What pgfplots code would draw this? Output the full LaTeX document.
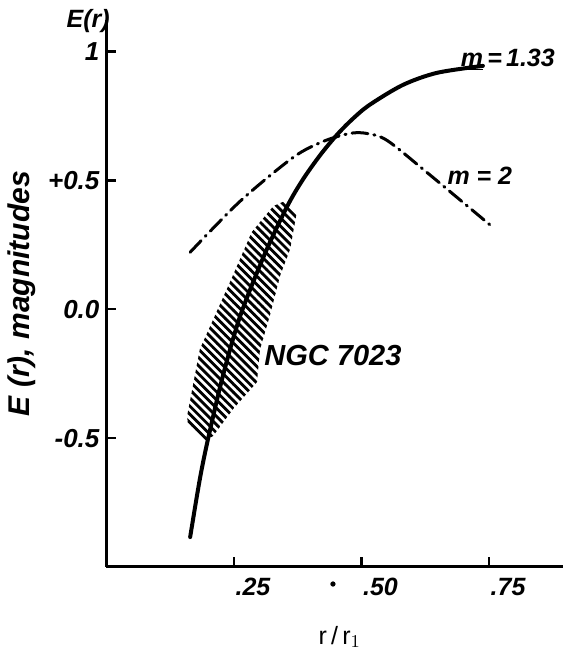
\documentclass[border=0pt]{standalone}
\usepackage{fontspec}
\setmainfont{Liberation Sans}
\usepackage{pgfplots}
\pgfplotsset{compat=1.18}
\usetikzlibrary{patterns.meta}

% diagonal hatching, "\" direction, heavy strokes
\tikzdeclarepattern{
  name=hatch,
  type=uncolored,
  bottom left={(-.1pt,-1pt)},
  top right={(3pt,1pt)},
  tile size={(2.9pt,2.9pt)},
  tile transformation={rotate=-45},
  code={
    \pgfsetlinewidth{1.4pt}
    \pgfpathmoveto{\pgfqpoint{-.1pt}{0pt}}
    \pgfpathlineto{\pgfqpoint{3pt}{0pt}}
    \pgfusepath{stroke}
  }
}

\newcommand\lf[1]{\fontsize{#1}{#1}\selectfont\bfseries\itshape}

\begin{document}
\begin{tikzpicture}
\begin{axis}[
    scale only axis,
    width=228.25pt, height=273.5pt,
    xmin=0, xmax=0.895,
    ymin=-1, ymax=1.122,
    axis lines=left,
    axis line style={line width=1.5pt, -},
    tick align=inside,
    major tick length=5pt,
    tick style={line width=1.2pt, black},
    xtick={0.25,0.5,0.75},
    xticklabels={.25,.50,.75},
    ytick={-0.5,0,0.5,1},
    yticklabels={-0.5,0.0,+0.5,1},
    xticklabel style={font=\lf{12.5}, xshift=9.5pt, yshift=-2pt},
    yticklabel style={font=\lf{13}},
    xlabel={r\,/\,r$_{1}$},
    xlabel style={font=\fontsize{12.5}{12.5}\selectfont,
        at={(axis description cs:0.511,-0.128)}, anchor=center},
    ylabel={E (r), magnitudes},
    ylabel style={font=\lf{15},
        at={(axis description cs:-0.185,0.5)}, anchor=center},
    clip=false,
]

% NGC 7023 hatched band
\addplot[draw=none, pattern=hatch, pattern color=black] coordinates {
(0.193,-0.51) (0.209,-0.492) (0.248,-0.388) (0.295,-0.283) (0.301,-0.155)
(0.32,-0.027) (0.34,0.128) (0.36,0.233) (0.373,0.376) (0.35,0.42)
(0.327,0.40) (0.285,0.30) (0.242,0.105) (0.183,-0.155) (0.158,-0.415)
(0.16,-0.45)
} -- cycle;

% m = 1.33
\addplot[line width=2pt, smooth, line cap=round] coordinates {
(0.164,-0.884) (0.183,-0.659) (0.199,-0.504) (0.228,-0.26) (0.262,-0.027)
(0.31,0.213) (0.354,0.398) (0.385,0.503) (0.419,0.598) (0.452,0.677)
(0.483,0.739) (0.516,0.793) (0.581,0.870) (0.648,0.917) (0.738,0.944)
};

% m = 2
\addplot[line width=1.5pt, smooth, tension=0.5, line cap=round,
    dash pattern=on 8pt off 3pt on 0.6pt off 3pt] coordinates {
(0.164,0.221) (0.262,0.419) (0.366,0.589) (0.425,0.651) (0.477,0.682)
(0.51,0.682) (0.55,0.655) (0.628,0.531) (0.755,0.322)
};

% stray dot below the axis
\addplot[only marks, mark=*, mark size=1.1pt] coordinates {(0.444,-1.066)};

\node[font=\lf{12.5}] at (axis cs:0.787,0.969) {\underline{m}\,=\,1.33};
\node[font=\lf{12.5}] at (axis cs:0.732,0.519) {m = 2};
\node[font=\lf{14.5}] at (axis cs:0.444,-0.18) {NGC 7023};
\node[font=\lf{12.5}] at (axis cs:-0.036,1.117) {E(r)};
\end{axis}
\pgfresetboundingbox
\path[use as bounding box] ([xshift=-53.25pt,yshift=-42pt]current axis.south west)
    rectangle ([yshift=10pt]current axis.north east);
\end{tikzpicture}
\end{document}
